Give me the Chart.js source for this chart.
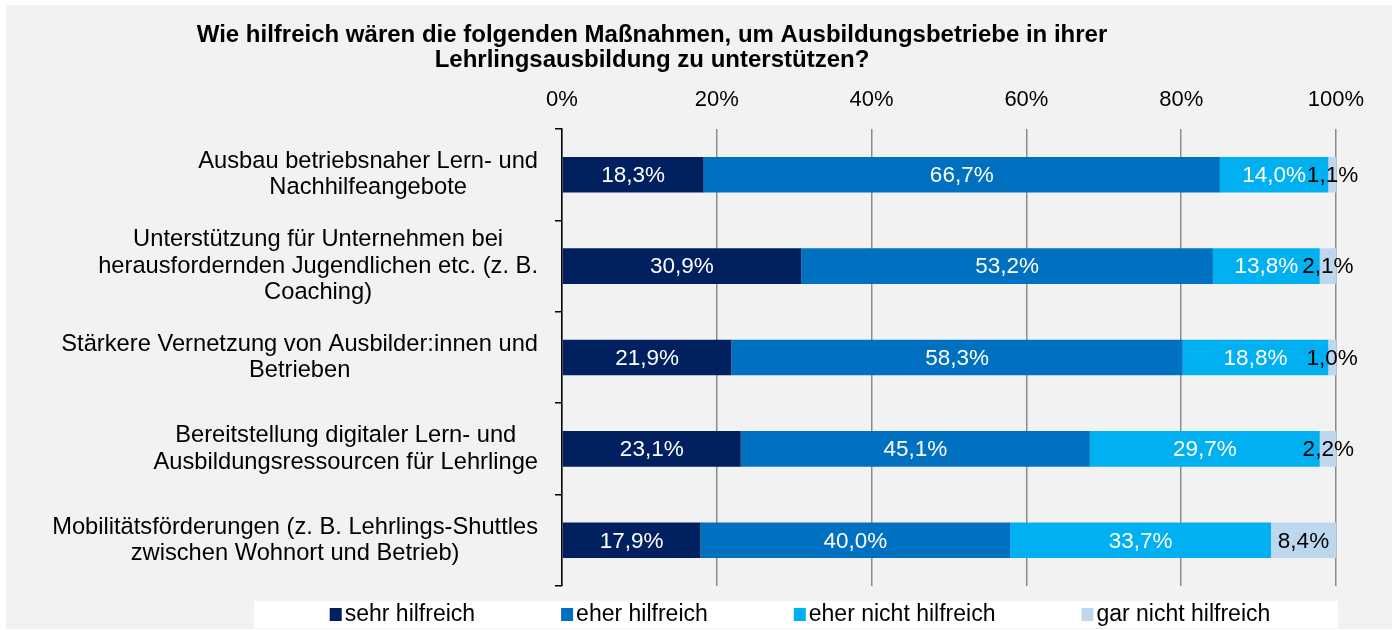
<!DOCTYPE html>
<html lang="de">
<head>
<meta charset="utf-8">
<title>Maßnahmen Lehrlingsausbildung</title>
<script src="https://cdn.jsdelivr.net/npm/chart.js@4.4.1/dist/chart.umd.min.js"></script>
<style>
  html, body { margin: 0; padding: 0; background: #fff; }
  #wrap { width: 1396px; height: 630px; }
</style>
</head>
<body>
<div id="wrap"><canvas id="chart" width="1396" height="630"></canvas></div>
<script>
const titleLines = [
  "Wie hilfreich wären die folgenden Maßnahmen, um Ausbildungsbetriebe in ihrer",
  "Lehrlingsausbildung zu unterstützen?"
];

// each category split into the lines shown in the picture
const categories = [
  ["Ausbau betriebsnaher Lern- und", "Nachhilfeangebote"],
  ["Unterstützung für Unternehmen bei", "herausfordernden Jugendlichen etc. (z. B.", "Coaching)"],
  ["Stärkere Vernetzung von Ausbilder:innen und", "Betrieben"],
  ["Bereitstellung digitaler Lern- und", "Ausbildungsressourcen für Lehrlinge"],
  ["Mobilitätsförderungen (z. B. Lehrlings-Shuttles", "zwischen Wohnort und Betrieb)"]
];

const seriesNames = ["sehr hilfreich", "eher hilfreich", "eher nicht hilfreich", "gar nicht hilfreich"];
const sehrHilfreich = [18.3, 30.9, 21.9, 23.1, 17.9];
const eherHilfreich = [66.7, 53.2, 58.3, 45.1, 40.0];
const eherNichtHilfreich = [14.0, 13.8, 18.8, 29.7, 33.7];
const garNichtHilfreich = [1.1, 2.1, 1.0, 2.2, 8.4];
const xTicks = [0, 20, 40, 60, 80, 100];

const seriesColors = ["#002060", "#0070C0", "#00B0F0", "#BDD7EE"];
const valueColors = ["#ffffff", "#ffffff", "#ffffff", "#000000"];

const FONT = '"Liberation Sans", Arial, sans-serif';

function fmt(v) {
  return v.toFixed(1).replace(".", ",") + "%";
}

// gray panel and white legend strip
const backdrop = {
  id: "backdrop",
  beforeDraw(chart) {
    const ctx = chart.ctx;
    ctx.save();
    ctx.fillStyle = "#ffffff";
    ctx.fillRect(0, 0, chart.width, chart.height);
    ctx.fillStyle = "#f2f2f2";
    ctx.fillRect(6, 5, 1386, 624);
    ctx.fillStyle = "#ffffff";
    ctx.fillRect(254, 601, 1084, 27);
    ctx.restore();
  }
};

const segmentLabels = {
  id: "segmentLabels",
  afterDatasetsDraw(chart) {
    const ctx = chart.ctx;
    ctx.save();
    ctx.font = "22.5px " + FONT;
    ctx.textAlign = "center";
    ctx.textBaseline = "middle";
    chart.data.datasets.forEach((ds, d) => {
      const meta = chart.getDatasetMeta(d);
      ctx.fillStyle = valueColors[d];
      meta.data.forEach((bar, i) => {
        ctx.fillText(fmt(ds.data[i]), (bar.x + bar.base) / 2, bar.y + 1);
      });
    });
    ctx.restore();
  }
};

const textParts = {
  id: "textParts",
  afterDraw(chart) {
    const ctx = chart.ctx;
    const y = chart.scales.y;
    ctx.save();

    // title
    ctx.fillStyle = "#000";
    ctx.font = "bold 24px " + FONT;
    ctx.textAlign = "center";
    ctx.textBaseline = "alphabetic";
    ctx.fillText(titleLines[0], 652, 42);
    ctx.fillText(titleLines[1], 652, 67);

    // category labels, each block centred on its own widest line
    ctx.font = "23.7px " + FONT;
    ctx.textBaseline = "middle";
    categories.forEach((lines, i) => {
      const yc = y.getPixelForValue(i);
      const widest = Math.max(...lines.map(l => ctx.measureText(l).width));
      const cx = 538 - widest / 2;
      lines.forEach((line, j) => {
        ctx.fillText(line, cx, yc + (j - (lines.length - 1) / 2) * 26.5);
      });
    });

    // legend
    ctx.font = "23px " + FONT;
    const gap = 86;
    const items = chart.data.datasets.map(ds => ({
      label: ds.label,
      color: ds.backgroundColor,
      w: 12 + 3 + ctx.measureText(ds.label).width
    }));
    const total = items.reduce((s, it) => s + it.w, 0) + gap * (items.length - 1);
    let x = 800 - total / 2;
    ctx.textAlign = "left";
    items.forEach(it => {
      ctx.fillStyle = it.color;
      ctx.fillRect(x, 608, 12, 13);
      ctx.fillStyle = "#000";
      ctx.fillText(it.label, x + 15, 615);
      x += it.w + gap;
    });

    ctx.restore();
  }
};

new Chart(document.getElementById("chart"), {
  type: "bar",
  data: {
    labels: categories.map(c => c.join(" ")),
    datasets: [
      { label: seriesNames[0], data: sehrHilfreich, backgroundColor: seriesColors[0] },
      { label: seriesNames[1], data: eherHilfreich, backgroundColor: seriesColors[1] },
      { label: seriesNames[2], data: eherNichtHilfreich, backgroundColor: seriesColors[2] },
      { label: seriesNames[3], data: garNichtHilfreich, backgroundColor: seriesColors[3] }
    ]
  },
  options: {
    indexAxis: "y",
    responsive: false,
    animation: false,
    devicePixelRatio: 1,
    layout: { padding: { top: 0, left: 0, right: 60, bottom: 44 } },
    datasets: {
      bar: { barPercentage: 0.39, categoryPercentage: 1, borderWidth: 0 }
    },
    scales: {
      x: {
        position: "top",
        stacked: true,
        min: 0,
        max: 100,
        afterBuildTicks(scale) {
          scale.ticks = xTicks.map(v => ({ value: v }));
        },
        afterFit(scale) { scale.height = 129; },
        grid: { color: "#8c8c8c", lineWidth: 1.5, drawTicks: false },
        border: { display: false },
        ticks: {
          padding: 16,
          color: "#000",
          font: { family: FONT, size: 22 },
          callback: v => v + "%"
        }
      },
      y: {
        stacked: true,
        afterFit(scale) { scale.width = 562; },
        grid: {
          offset: true,
          drawOnChartArea: false,
          drawTicks: true,
          tickLength: 7,
          color: "#000",
          lineWidth: 1.5
        },
        border: { display: true, color: "#000", width: 1.5 },
        ticks: { display: false }
      }
    },
    plugins: {
      legend: { display: false },
      title: { display: false },
      tooltip: { enabled: false }
    }
  },
  plugins: [backdrop, segmentLabels, textParts]
});
</script>
</body>
</html>
